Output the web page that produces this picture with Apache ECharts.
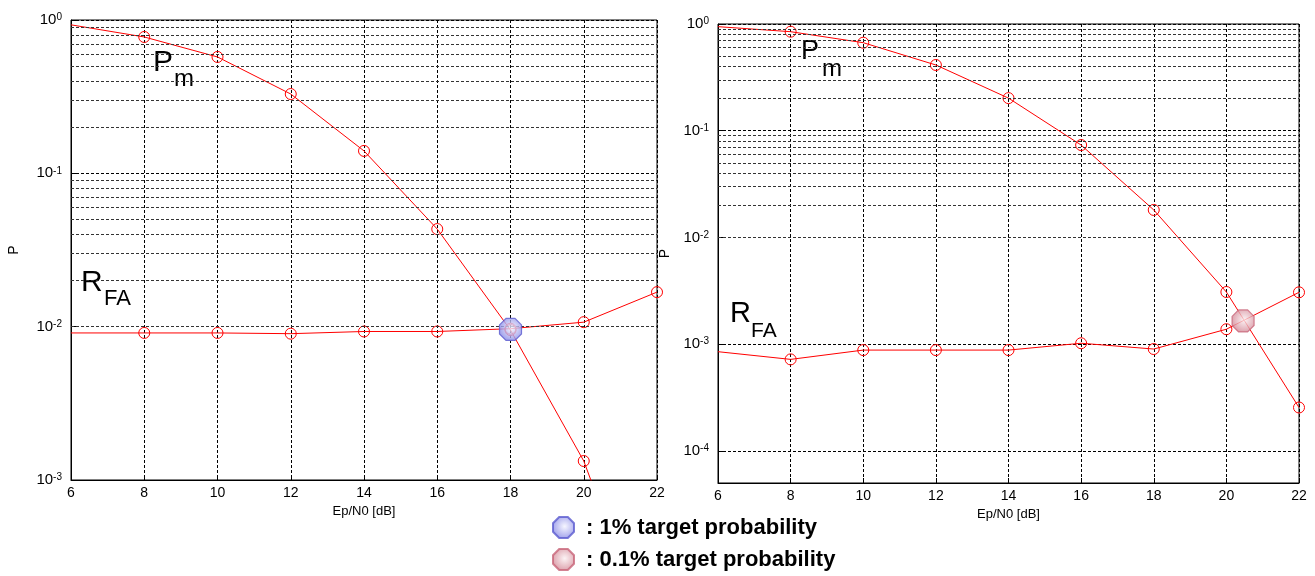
<!DOCTYPE html>
<html>
<head>
<meta charset="utf-8">
<script src="https://cdn.jsdelivr.net/npm/echarts@6/dist/echarts.min.js"></script>
<style>
html,body{margin:0;padding:0;background:#fff;}
#chart{width:1315px;height:576px;}
</style>
</head>
<body>
<div id="chart"></div>
<script>
// ---- data ----
const ebn0 = [6, 8, 10, 12, 14, 16, 18, 20, 22];
const xTicks = [6, 8, 10, 12, 14, 16, 18, 20, 22];
const leftPm  = [0.93, 0.775, 0.574, 0.329, 0.14, 0.0433, 0.0095, 0.00133, 0.00007];
const leftRfa = [0.0091, 0.0091, 0.0091, 0.0090, 0.0093, 0.0093, 0.0097, 0.0107, 0.0168];
const rightPm  = [0.944, 0.847, 0.668, 0.413, 0.202, 0.0734, 0.0181, 0.00308, 0.000255];
const rightRfa = [0.00085, 0.00072, 0.00088, 0.00088, 0.00088, 0.00102, 0.00090, 0.00138, 0.00306];
const target1 = [[18, 0.0096]];
const target01 = [[20.46, 0.00165]];
const leftYRange = [0.001, 1];
const rightYRange = [0.00005, 1];
const legendNames = ['1% target probability', '0.1% target probability'];
const xName = 'Ep/N0 [dB]';
const yName = 'P';

const FONT = '"Liberation Sans", Arial, sans-serif';

function minorValues(lo, hi) {
  const out = [];
  for (let e = Math.floor(Math.log10(lo)); e <= Math.ceil(Math.log10(hi)); e++) {
    for (let m = 2; m <= 9; m++) {
      const v = m * Math.pow(10, e);
      if (v > lo * 1.0001 && v < hi * 0.9999) out.push(v);
    }
  }
  return out;
}

const OCT = 'path://M-0.41,-1L0.41,-1L1,-0.41L1,0.41L0.41,1L-0.41,1L-1,0.41L-1,-0.41Z';

function yAxisCfg(idx, range, gap) {
  return {
    type: 'log', logBase: 10, gridIndex: idx, min: range[0], max: range[1],
    name: yName, nameLocation: 'middle', nameRotate: 90, nameGap: gap,
    nameTextStyle: {fontSize: 14, color: '#000', fontFamily: FONT},
    axisLine: {show: true, lineStyle: {color: '#000', width: 1}},
    axisTick: {show: true, inside: true, length: 5, lineStyle: {color: '#000'}},
    splitLine: {show: true, lineStyle: {color: '#000', type: [3, 2], width: 1}},
    minorTick: {show: false}, minorSplitLine: {show: false},
    axisLabel: {
      margin: 9,
      formatter: function (v) {
        const l = Math.log10(v);
        const e = Math.round(l);
        if (Math.abs(l - e) > 1e-6) return '';
        return '{b|10}{s|' + e + '}';
      },
      rich: {
        b: {fontSize: 15, fontFamily: FONT, color: '#000', lineHeight: 15, padding: [5, 0, 5, 0], verticalAlign: 'middle'},
        s: {fontSize: 10, fontFamily: FONT, color: '#000', lineHeight: 10, verticalAlign: 'top'}
      }
    }
  };
}

function xAxisCfg(idx) {
  return {
    type: 'value', gridIndex: idx, min: xTicks[0], max: xTicks[xTicks.length - 1], interval: 2,
    name: xName, nameLocation: 'middle', nameGap: 24,
    nameTextStyle: {fontSize: 13, color: '#000', fontFamily: FONT},
    axisLine: {show: true, onZero: false, lineStyle: {color: '#000', width: 1}},
    axisTick: {show: true, inside: true, length: 5, lineStyle: {color: '#000'}},
    splitLine: {show: true, lineStyle: {color: '#000', type: [3, 2], width: 1}},
    axisLabel: {fontSize: 14, color: '#000', fontFamily: FONT, margin: 6}
  };
}

function curve(name, idx, vals) {
  return {
    name: name, type: 'line', xAxisIndex: idx, yAxisIndex: idx,
    // the marker at the left edge (x = 6) is not shown in the reference
    data: ebn0.map((x, i) => i === 0 ? {value: [x, vals[i]], symbol: 'none'} : [x, vals[i]]),
    symbol: 'circle', symbolSize: 11, showAllSymbol: true,
    lineStyle: {color: '#ff0000', width: 1},
    itemStyle: {color: 'rgba(0,0,0,0)', borderColor: '#ff0000', borderWidth: 1},
    emphasis: {disabled: true}, animation: false, clip: true, z: 3
  };
}

function gridLines(idx, range) {
  return {
    type: 'line', xAxisIndex: idx, yAxisIndex: idx, data: [], silent: true, animation: false,
    markLine: {
      silent: true, symbol: ['none', 'none'], animation: false,
      label: {show: false},
      lineStyle: {color: '#333', type: [3, 2], width: 1},
      emphasis: {disabled: true},
      data: minorValues(range[0], range[1]).map(v => ({yAxis: v}))
    }, z: 1
  };
}

function radial(c0, c1) {
  return {type: 'radial', x: 0.55, y: 0.45, r: 0.6,
    colorStops: [{offset: 0, color: c0}, {offset: 1, color: c1}]};
}

const chart = echarts.init(document.getElementById('chart'), null, {renderer: 'canvas'});
chart.setOption({
  backgroundColor: '#fff',
  animation: false,
  textStyle: {fontFamily: FONT},
  grid: [
    {left: 71, top: 20, width: 586, height: 460, show: true, borderColor: '#000', borderWidth: 1, backgroundColor: 'transparent'},
    {left: 718, top: 24, width: 581, height: 459, show: true, borderColor: '#000', borderWidth: 1, backgroundColor: 'transparent'}
  ],
  xAxis: [xAxisCfg(0), xAxisCfg(1)],
  yAxis: [yAxisCfg(0, leftYRange, 50), yAxisCfg(1, rightYRange, 46)],
  legend: {
    data: legendNames, orient: 'vertical', left: 552, top: 516, padding: 0,
    itemWidth: 21, itemHeight: 21, itemGap: 9, selectedMode: false,
    formatter: n => ': ' + n,
    textStyle: {fontSize: 22, fontWeight: 'bold', color: '#000', fontFamily: FONT, padding: [0, 0, 0, 7]}
  },
  series: [
    gridLines(0, leftYRange),
    gridLines(1, rightYRange),
    curve('Pm', 0, leftPm),
    curve('RFA', 0, leftRfa),
    curve('Pm ', 1, rightPm),
    curve('RFA ', 1, rightRfa),
    {
      name: legendNames[0], type: 'scatter', xAxisIndex: 0, yAxisIndex: 0, data: target1,
      symbol: OCT, symbolSize: 22, z: 5,
      itemStyle: {color: radial('#f4f4ff', '#7f80e4'), borderColor: '#5b5bd0', borderWidth: 1.2, opacity: 0.8}
    },
    {
      name: legendNames[1], type: 'scatter', xAxisIndex: 1, yAxisIndex: 1, data: target01,
      symbol: OCT, symbolSize: 22, z: 5,
      itemStyle: {color: radial('#fbf0f2', '#d0808f'), borderColor: '#c86478', borderWidth: 1.2, opacity: 0.8}
    }
  ],
  graphic: [
    {type: 'text', x: 153, y: 62.5, style: {text: 'P', font: '30px ' + FONT, fill: '#000', verticalAlign: 'middle'}},
    {type: 'text', x: 174, y: 79.5, style: {text: 'm', font: '24px ' + FONT, fill: '#000', verticalAlign: 'middle'}},
    {type: 'text', x: 81, y: 282.7, style: {text: 'R', font: '30px ' + FONT, fill: '#000', verticalAlign: 'middle'}},
    {type: 'text', x: 104, y: 299, style: {text: 'FA', font: '22px ' + FONT, fill: '#000', verticalAlign: 'middle'}},
    {type: 'text', x: 801, y: 52, style: {text: 'P', font: '27px ' + FONT, fill: '#000', verticalAlign: 'middle'}},
    {type: 'text', x: 822, y: 69.6, style: {text: 'm', font: '24px ' + FONT, fill: '#000', verticalAlign: 'middle'}},
    {type: 'text', x: 730, y: 314, style: {text: 'R', font: '29px ' + FONT, fill: '#000', verticalAlign: 'middle'}},
    {type: 'text', x: 751, y: 331.5, style: {text: 'FA', font: '21px ' + FONT, fill: '#000', verticalAlign: 'middle'}}
  ]
});
</script>
</body>
</html>
